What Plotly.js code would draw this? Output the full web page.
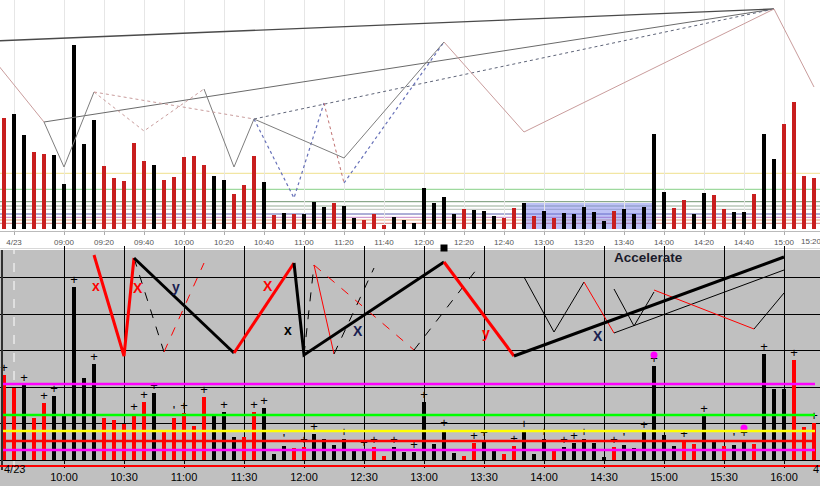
<!DOCTYPE html>
<html><head><meta charset="utf-8">
<script src="https://cdn.plot.ly/plotly-3.0.1.min.js"></script>
<style>html,body{margin:0;padding:0;background:#fff}</style>
</head><body><div id="chart" style="width:820px;height:486px"></div>
<script>
// ---------- DATA ----------
const topTimes = ["08:30","08:35","08:40","08:45","08:50","08:55","09:00","09:05","09:10","09:15","09:20","09:25","09:30","09:35","09:40","09:45","09:50","09:55","10:00","10:05","10:10","10:15","10:20","10:25","10:30","10:35","10:40","10:45","10:50","10:55","11:00","11:05","11:10","11:15","11:20","11:25","11:30","11:35","11:40","11:45","11:50","11:55","12:00","12:05","12:10","12:15","12:20","12:25","12:30","12:35","12:40","12:45","12:50","12:55","13:00","13:05","13:10","13:15","13:20","13:25","13:30","13:35","13:40","13:45","13:50","13:55","14:00","14:05","14:10","14:15","14:20","14:25","14:30","14:35","14:40","14:45","14:50","14:55","15:00","15:05","15:10","15:15"];
const topVolume = [111,115,94,77,75,74,45,184,85,109,63,51,48,86,68,64,49,52,72,73,64,53,49,35,44,73,47,14,16,15,15,27,22,26,23,11,9,15,4,12,9,6,41,26,32,15,20,19,18,13,11,21,26,13,18,11,16,15,22,17,8,18,20,15,22,95,37,21,29,15,36,34,20,17,17,35,95,70,105,127,53,51];
const topColorCode = ["R","K","K","R","R","K","K","K","K","K","R","R","R","R","R","K","R","R","R","R","R","K","K","R","R","R","K","R","K","R","K","K","K","R","K","K","R","R","R","K","K","K","K","K","K","K","R","K","K","K","R","R","K","R","K","R","K","K","K","K","K","R","K","K","K","K","K","R","R","K","K","R","R","K","K","R","K","K","R","R","R","R"];
const topTickTimes = ["08:35","09:00","09:20","09:40","10:00","10:20","10:40","11:00","11:20","11:40","12:00","12:20","12:40","13:00","13:20","13:40","14:00","14:20","14:40","15:00"];
const topTickLabels = ["4/23","09:00","09:20","09:40","10:00","10:20","10:40","11:00","11:20","11:40","12:00","12:20","12:40","13:00","13:20","13:40","14:00","14:20","14:40","15:00"];
const topLevels = [55.7,39.7,27.3,23,19.7,15,11.7,9,5.7];
const topZoneTimes = ["12:50","13:55"];
const topZoneLevel = 26;

// top zigzag / trend lines: [times, values]
const topLine1 = [["08:25","14:55"],[188,220]];
const topLine2 = [["08:50","14:55"],[107,220]];
const topLine3 = [["10:35","14:55"],[110,220]];
const topLine4 = [["08:25","08:50"],[169,107]];
const topLine5 = [["08:50","09:00","09:15"],[107,62,137]];
const topLine6 = [["09:15","09:40","10:10"],[137,98,140]];
const topLine7 = [["10:10","10:25","10:35"],[140,62,110]];
const topLine8 = [["09:15","10:35"],[137,110]];
const topLine9 = [["10:35","10:55","11:10"],[110,31,126]];
const topLine10 = [["11:10","11:20"],[126,46]];
const topLine11 = [["11:20","12:10"],[46,187]];
const topLine12 = [["10:35","11:20","12:10"],[110,71,187]];
const topLine13 = [["12:10","12:50","14:55","15:15"],[187,97,220,142]];

const botTimes = ["09:30","09:35","09:40","09:45","09:50","09:55","10:00","10:05","10:10","10:15","10:20","10:25","10:30","10:35","10:40","10:45","10:50","10:55","11:00","11:05","11:10","11:15","11:20","11:25","11:30","11:35","11:40","11:45","11:50","11:55","12:00","12:05","12:10","12:15","12:20","12:25","12:30","12:35","12:40","12:45","12:50","12:55","13:00","13:05","13:10","13:15","13:20","13:25","13:30","13:35","13:40","13:45","13:50","13:55","14:00","14:05","14:10","14:15","14:20","14:25","14:30","14:35","14:40","14:45","14:50","14:55","15:00","15:05","15:10","15:15","15:20","15:25","15:30","15:35","15:40","15:45","15:50","15:55","16:00","16:05","16:10","16:15"];
const botVolume = [85,72,75,42,57,64,44,173,82,96,42,40,36,46,58,67,29,42,47,34,63,44,48,23,23,48,52,6,14,12,13,26,21,15,21,9,10,13,4,13,8,8,58,16,30,7,4,17,20,9,6,14,29,6,21,10,13,17,21,17,3,13,15,12,28,94,25,14,19,16,44,20,14,15,20,16,106,71,71,100,33,37];
const botColorCode = ["R","R","K","R","R","K","K","K","K","K","R","R","R","R","R","K","R","R","R","R","R","K","K","K","R","R","K","K","K","R","R","K","K","K","K","K","K","R","R","K","K","K","K","K","K","K","R","R","K","K","R","R","K","K","K","R","K","K","K","K","K","R","K","K","K","K","K","K","R","R","K","K","R","K","K","R","K","K","K","R","R","R"];
const botMarks = ["+","","+","","+","+","","+","","+","","","","+","+","+","","'","+","","+","","+","","","+","+","","'","","+","+","","","+","","+","+","","+","","+","+","","+","","","+","+","","","+","+","","+","","+","+","+","","","+","'","","+","+","","","+","","+","","","'","+","","+","","","+","","+"];
const botTickTimes = ["10:00","10:30","11:00","11:30","12:00","12:30","13:00","13:30","14:00","14:30","15:00","15:30","16:00"];
const botTickLabels = ["10:00","10:30","11:00","11:30","12:00","12:30","13:00","13:30","14:00","14:30","15:00","15:30","16:00"];
const botGridLevels = [0,37,73,110,146,183];
const botLevels = [76,45,29,19,10];
const botDateTime = "09:35";

// bottom zigzag lines
const zThickRed1 = [["10:15","10:30","10:35"],[205,104,202]];
const zThickBlack1 = [["10:35","11:25"],[202,107]];
const zThickRed2 = [["11:25","11:55"],[107,197]];
const zThickBlack2 = [["11:55","12:00","13:10"],[197,105,198]];
const zThickRed3 = [["13:10","13:45"],[198,104]];
const zThickBlack3 = [["13:45","16:00"],[104,203]];
const zDashBlack1 = [["10:35","10:50"],[202,108]];
const zDashRed1 = [["10:50","11:10"],[108,197]];
const zDashBlack2 = [["12:00","12:05"],[105,195]];
const zThinRed2 = [["12:05","12:15"],[195,106]];
const zDashBlack3 = [["12:15","12:35"],[106,192]];
const zDashRed3 = [["12:05","12:55"],[195,110]];
const zDashBlack4 = [["12:55","13:28"],[110,195]];
const zThinBlack1 = [["13:50","14:05","14:20"],[183,128,178]];
const zThinRed4 = [["14:20","14:35"],[178,127]];
const zThinBlack2 = [["14:35","16:00"],[127,190]];
const zThinBlack3 = [["14:35","14:45","14:55"],[171,134,168]];
const zThinRed5 = [["14:55","15:45"],[170,131]];
const zThinBlack4 = [["15:45","16:00"],[131,167]];

const labelText = ["x","X","y","X","x","X","y","X"];
const labelTime = ["10:16","10:37","10:56","11:42","11:52","12:27","13:31","14:27"];
const labelValue = [174,172,173,174,130,129,127,124];
const labelColor = ["#ff0000","#ff0000","#1a2050","#ff0000","#000000","#1a2050","#ff0000","#1a2050"];
const accelText = "Accelerate";
const accelTime = "14:52";
const accelValue = 203;
const squareTime = ["13:10"];
const squareValue = [212];
const dotTimes = ["14:55","15:40"];
const dotValues = [105,32];

// ---------- BUILD ----------
const toMin = s => { const p = s.split(':').map(Number); return p[0]*60 + p[1]; };
const traces = [];
traces.push({type:'bar', x: topTimes.map(toMin), y: topVolume, width: 2,
  marker:{color: topColorCode.map(c => c === 'R' ? '#c81e1e' : '#000000')}, xaxis:'x', yaxis:'y', hoverinfo:'skip'});
function line(d, color, width, dash, xa, ya){
  traces.push({type:'scatter', mode:'lines', x: d[0].map(toMin), y: d[1], xaxis: xa, yaxis: ya,
    line:{color: color, width: width, dash: dash || 'solid'}, hoverinfo:'skip'});
}
const GR = '#7d7d7d', RO = '#c99c9c', BL = '#6670b8';
line(topLine1, '#4a4a4a', 1.3, 'solid', 'x', 'y');
line(topLine2, '#6a6a6a', 1, 'solid', 'x', 'y');
line(topLine3, '#5e6478', 1, 'dot', 'x', 'y');
line(topLine4, RO, 1, 'solid', 'x', 'y');
line(topLine5, GR, 1, 'solid', 'x', 'y');
line(topLine6, RO, 1, 'dot', 'x', 'y');
line(topLine7, GR, 1, 'solid', 'x', 'y');
line(topLine8, RO, 1, 'dot', 'x', 'y');
line(topLine9, BL, 1.2, 'dot', 'x', 'y');
line(topLine10, '#c07070', 1, 'dot', 'x', 'y');
line(topLine11, BL, 1.2, 'dot', 'x', 'y');
line(topLine12, GR, 1, 'solid', 'x', 'y');
line(topLine13, RO, 1, 'solid', 'x', 'y');

traces.push({type:'bar', x: botTimes.map(toMin), y: botVolume, width: 2,
  marker:{color: botColorCode.map(c => c === 'R' ? '#ff0000' : '#000000')}, xaxis:'x2', yaxis:'y2', hoverinfo:'skip'});
traces.push({type:'scatter', mode:'text', x: botTimes.map(toMin), y: botVolume, text: botMarks,
  textposition:'top center', textfont:{family:'Liberation Sans', size:13, color:'#000'},
  xaxis:'x2', yaxis:'y2', hoverinfo:'skip', cliponaxis:false});

line(zDashBlack1, '#000', 1, 'dash', 'x2', 'y2');
line(zDashRed1, '#ff0000', 1, 'dash', 'x2', 'y2');
line(zDashBlack2, '#000', 1, 'dash', 'x2', 'y2');
line(zThinRed2, '#ff0000', 1, 'solid', 'x2', 'y2');
line(zDashBlack3, '#000', 1, 'dash', 'x2', 'y2');
line(zDashRed3, '#ff0000', 1, 'dash', 'x2', 'y2');
line(zDashBlack4, '#000', 1, 'dash', 'x2', 'y2');
line(zThinBlack1, '#000', 1, 'solid', 'x2', 'y2');
line(zThinRed4, '#ff0000', 1, 'solid', 'x2', 'y2');
line(zThinBlack2, '#000', 1, 'solid', 'x2', 'y2');
line(zThinBlack3, '#000', 1, 'solid', 'x2', 'y2');
line(zThinRed5, '#ff0000', 1, 'solid', 'x2', 'y2');
line(zThinBlack4, '#000', 1, 'solid', 'x2', 'y2');
line(zThickRed1, '#ff0000', 3, 'solid', 'x2', 'y2');
line(zThickBlack1, '#000', 3, 'solid', 'x2', 'y2');
line(zThickRed2, '#ff0000', 3, 'solid', 'x2', 'y2');
line(zThickBlack2, '#000', 3, 'solid', 'x2', 'y2');
line(zThickRed3, '#ff0000', 3, 'solid', 'x2', 'y2');
line(zThickBlack3, '#000', 3, 'solid', 'x2', 'y2');

traces.push({type:'scatter', mode:'markers', x: squareTime.map(toMin), y: squareValue, xaxis:'x2', yaxis:'y2',
  marker:{symbol:'square', size:7, color:'#000'}, cliponaxis:false, hoverinfo:'skip'});
traces.push({type:'scatter', mode:'markers', x: dotTimes.map(toMin), y: dotValues, xaxis:'x2', yaxis:'y2',
  marker:{symbol:'circle', size:7, color:'#ff00ff'}, cliponaxis:false, hoverinfo:'skip'});

const H = 486, W = 820;
const py = px => 1 - px / H;
const topLevelColors = ['#efe08c','#86d086','#6f946f','#93ab93','#b8c0b8','#5b5fae','#c584c5','#e8a77a','#d67a7a'];
const botLevelColors = ['#ff00ff','#00ff00','#ffff00','#ff0000','#ff00ff'];
const shapes = [];
shapes.push({type:'rect', xref:'paper', yref:'paper', x0:0, x1:1, y0:0, y1:py(250), fillcolor:'#c0c0c0', line:{width:0}, layer:'below'});
shapes.push({type:'line', xref:'paper', yref:'paper', x0:0, x1:1, y0:py(248.5), y1:py(248.5), line:{color:'#d8d8d8', width:1}, layer:'below'});
shapes.push({type:'line', xref:'x2', yref:'paper', x0:toMin(botDateTime), x1:toMin(botDateTime), y0:py(470), y1:py(250), line:{color:'#ffffff', width:1, dash:'dash'}, layer:'below'});
shapes.push({type:'line', xref:'paper', yref:'paper', x0:2/W, x1:2/W, y0:py(470), y1:py(250), line:{color:'#303030', width:2}, layer:'above'});
topLevels.forEach((v,i) => shapes.push({type:'line', xref:'paper', yref:'y', x0:0, x1:1, y0:v, y1:v, line:{color:topLevelColors[i], width:1}, layer:'below'}));
shapes.push({type:'rect', xref:'x', yref:'y', x0:toMin(topZoneTimes[0]), x1:toMin(topZoneTimes[1]), y0:0, y1:topZoneLevel, fillcolor:'rgba(110,120,235,0.45)', line:{width:0}, layer:'below'});
botLevels.forEach((v,i) => shapes.push({type:'line', xref:'paper', yref:'y2', x0:3/W, x1:815/W, y0:v, y1:v, line:{color:botLevelColors[i], width:2.5}, layer:'above'}));
shapes.push({type:'line', xref:'paper', yref:'paper', x0:0, x1:1, y0:py(466), y1:py(466), line:{color:'#ff0000', width:2}, layer:'above'});

const annotations = labelText.map((t,i) => ({xref:'x2', yref:'y2', x: toMin(labelTime[i]), y: labelValue[i], text:t, showarrow:false,
  font:{family:'Liberation Sans', size:14, color:labelColor[i], weight:'bold'}}));
annotations.push({xref:'x2', yref:'y2', x: toMin(accelTime), y: accelValue, text: accelText, showarrow:false,
  font:{family:'Liberation Sans', size:13.5, color:'#1a1a2a', weight:'bold'}});
annotations.push({xref:'x2', yref:'paper', x: toMin(botDateTime), y: py(477), text:'4/23', showarrow:false,
  font:{family:'Liberation Sans', size:11, color:'#000'}});
annotations.push({xref:'paper', yref:'paper', x: 811/W, y: py(477), xanchor:'left', text:'4', showarrow:false,
  font:{family:'Liberation Sans', size:11, color:'#000'}});
annotations.push({xref:'paper', yref:'paper', x: 824/W, y: py(241.5), text:'15:20', showarrow:false,
  font:{family:'Liberation Sans', size:8, color:'#555'}});

const layout = {
  width: W, height: H, margin:{l:0, r:0, t:0, b:0}, showlegend:false,
  paper_bgcolor:'#ffffff', plot_bgcolor:'rgba(0,0,0,0)', barmode:'overlay',
  xaxis:{domain:[0,1], anchor:'y', range:[508,918], tickvals: topTickTimes.map(toMin), ticktext: topTickLabels,
    showgrid:true, gridcolor:'#e6e6e6', gridwidth:1, ticks:'outside', ticklen:3, tickcolor:'#aaa',
    tickfont:{family:'Liberation Sans', size:8, color:'#555'}, showline:true, linecolor:'#bbb', zeroline:false, fixedrange:true},
  yaxis:{domain:[py(231),1], anchor:'x', range:[-2,229], showgrid:false, showticklabels:false, zeroline:false, fixedrange:true},
  xaxis2:{domain:[0,1], anchor:'y2', range:[568,978], tickvals: botTickTimes.map(toMin), ticktext: botTickLabels,
    showgrid:true, gridcolor:'#000', gridwidth:1, ticks:'outside', ticklen:3, tickcolor:'#000',
    tickfont:{family:'Liberation Sans', size:11, color:'#000'}, showline:false, zeroline:false, fixedrange:true},
  yaxis2:{domain:[py(464),py(246)], anchor:'x2', range:[-4,214], tickvals: botGridLevels, showgrid:true, gridcolor:'#000', gridwidth:1,
    showticklabels:false, zeroline:false, fixedrange:true},
  shapes: shapes, annotations: annotations
};
Plotly.newPlot('chart', traces, layout, {displayModeBar:false, staticPlot:true});
</script></body></html>
